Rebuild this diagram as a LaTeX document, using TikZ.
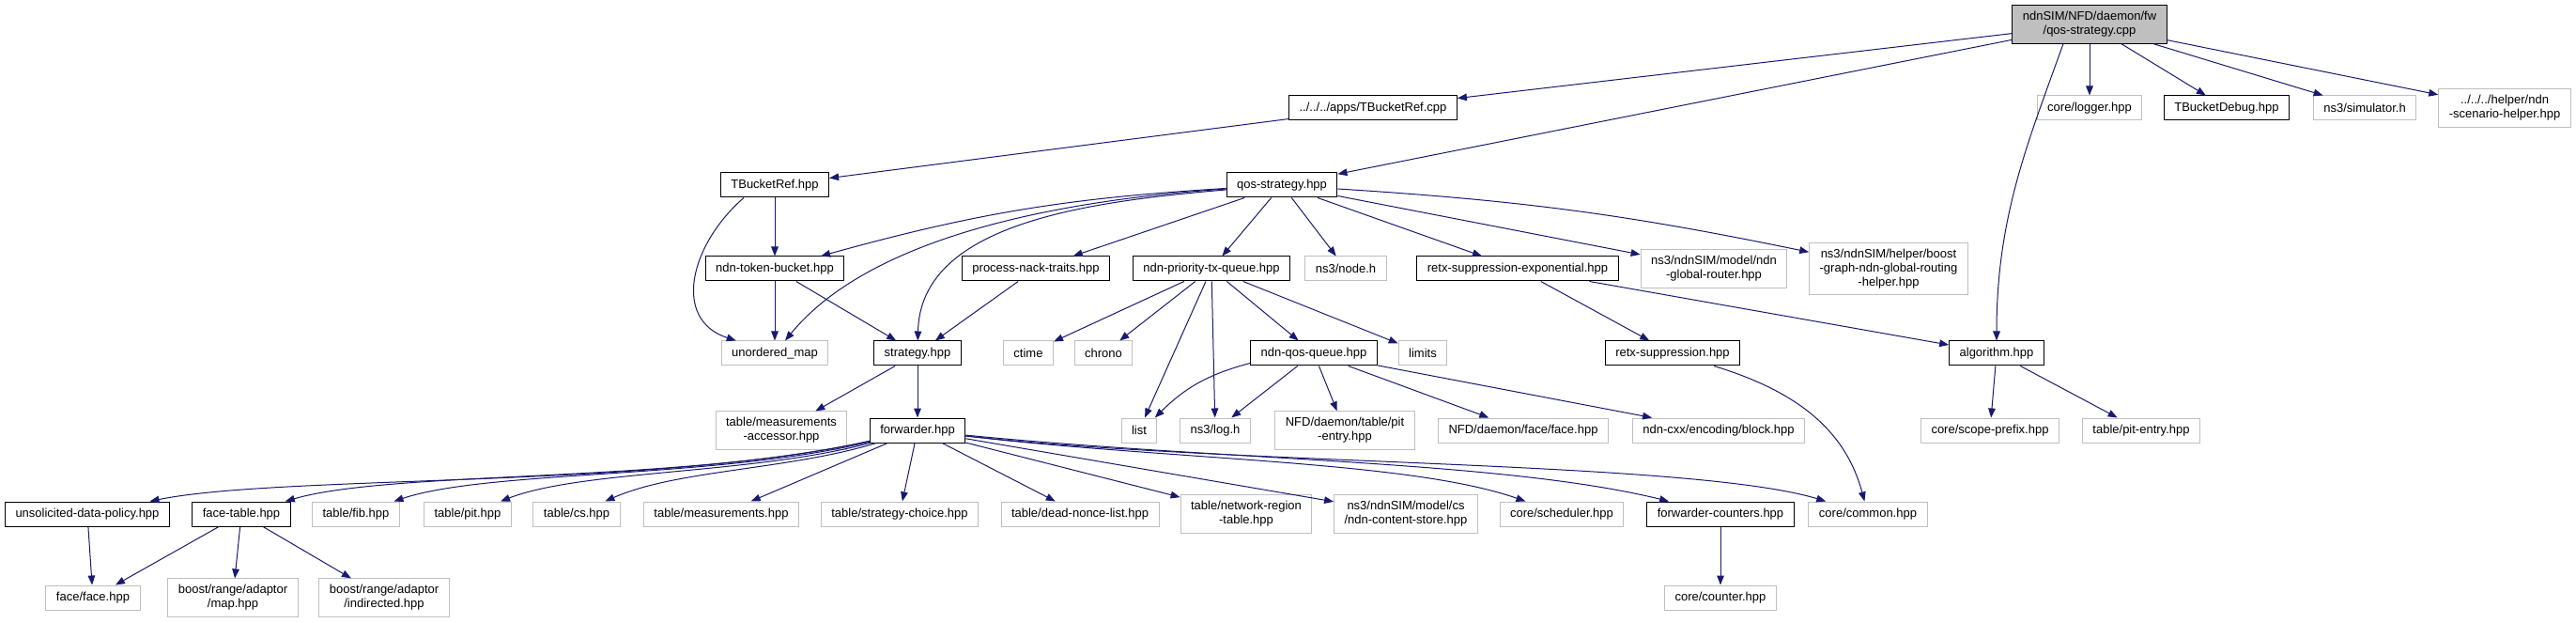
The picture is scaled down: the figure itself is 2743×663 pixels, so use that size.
\documentclass[tikz,border=0pt]{standalone}
\usepackage{fontspec}
\setmainfont{Liberation Sans}
\usepackage{xcolor}
\usepackage{tikz}
\usetikzlibrary{arrows.meta}
\definecolor{grey75}{HTML}{BFBFBF}
\definecolor{edgeblue}{HTML}{191970}

\begin{document}
\begin{tikzpicture}[x=0.5pt, y=-0.5pt,
    every node/.append style={font=\fontsize{6.5}{7.4}\selectfont},
    box/.style={draw=black, line width=0.5pt, fill=white, inner xsep=5.5pt, inner ysep=3.3pt, minimum height=13pt, align=center},
    extbox/.style={box, draw=grey75},
    rootbox/.style={box, fill=grey75},
    arr/.style={-{Triangle[length=5pt, width=3.8pt]}, draw=edgeblue, line width=0.5pt},
]
\useasboundingbox (0,0) rectangle (2743,663);

\node[rootbox] (root) at (2225, 26) {ndnSIM/NFD/daemon/fw\\/qos-strategy.cpp};

\node[box] (tbrCpp) at (1462, 115) {../../../apps/TBucketRef.cpp};
\node[extbox] (logger) at (2225, 115) {core/logger.hpp};
\node[box] (tbDebug) at (2371, 115) {TBucketDebug.hpp};
\node[extbox] (simulator) at (2518, 115) {ns3/simulator.h};
\node[extbox] (scenHelper) at (2667, 115) {../../../helper/ndn\\-scenario-helper.hpp};

\node[box] (tbrHpp) at (825, 197) {TBucketRef.hpp};
\node[box] (qosHpp) at (1365, 197) {qos-strategy.hpp};

\node[box] (tokenBucket) at (825, 286) {ndn-token-bucket.hpp};
\node[box] (nackTraits) at (1103, 286) {process-nack-traits.hpp};
\node[box] (priorityTx) at (1290, 286) {ndn-priority-tx-queue.hpp};
\node[extbox] (nodeH) at (1433, 286) {ns3/node.h};
\node[box] (retxExp) at (1616, 286) {retx-suppression-exponential.hpp};
\node[extbox] (globalRouter) at (1825, 286) {ns3/ndnSIM/model/ndn\\-global-router.hpp};
\node[extbox] (boostGraph) at (2011, 286) {ns3/ndnSIM/helper/boost\\-graph-ndn-global-routing\\-helper.hpp};

\node[extbox] (unorderedMap) at (825, 376) {unordered\_map};
\node[box] (strategy) at (977, 376) {strategy.hpp};
\node[extbox] (ctime) at (1095, 376) {ctime};
\node[extbox] (chrono) at (1175, 376) {chrono};
\node[box] (qosQueue) at (1399, 376) {ndn-qos-queue.hpp};
\node[extbox] (limits) at (1515, 376) {limits};
\node[box] (retxSupp) at (1781, 376) {retx-suppression.hpp};
\node[box] (algorithm) at (2126, 376) {algorithm.hpp};

\node[extbox] (measAccessor) at (832, 458) {table/measurements\\-accessor.hpp};
\node[box] (forwarder) at (977, 458) {forwarder.hpp};
\node[extbox] (list) at (1213, 458) {list};
\node[extbox] (nsLog) at (1294, 458) {ns3/log.h};
\node[extbox] (nfdPitEntry) at (1432, 458) {NFD/daemon/table/pit\\-entry.hpp};
\node[extbox] (nfdFace) at (1622, 458) {NFD/daemon/face/face.hpp};
\node[extbox] (block) at (1830, 458) {ndn-cxx/encoding/block.hpp};
\node[extbox] (scopePrefix) at (2119, 458) {core/scope-prefix.hpp};
\node[extbox] (pitEntry) at (2280, 458) {table/pit-entry.hpp};

\node[box] (unsolicited) at (93, 547) {unsolicited-data-policy.hpp};
\node[box] (faceTable) at (257, 547) {face-table.hpp};
\node[extbox] (fib) at (379, 547) {table/fib.hpp};
\node[extbox] (pit) at (498, 547) {table/pit.hpp};
\node[extbox] (cs) at (614, 547) {table/cs.hpp};
\node[extbox] (measurements) at (768, 547) {table/measurements.hpp};
\node[extbox] (strategyChoice) at (958, 547) {table/strategy-choice.hpp};
\node[extbox] (deadNonce) at (1150, 547) {table/dead-nonce-list.hpp};
\node[extbox] (networkRegion) at (1327, 547) {table/network-region\\-table.hpp};
\node[extbox] (contentStore) at (1497, 547) {ns3/ndnSIM/model/cs\\/ndn-content-store.hpp};
\node[extbox] (scheduler) at (1663, 547) {core/scheduler.hpp};
\node[box] (fwdCounters) at (1832, 547) {forwarder-counters.hpp};
\node[extbox] (common) at (1989, 547) {core/common.hpp};

\node[extbox] (faceFace) at (99, 636) {face/face.hpp};
\node[extbox] (boostMap) at (248, 636) {boost/range/adaptor\\/map.hpp};
\node[extbox] (boostIndirected) at (409, 636) {boost/range/adaptor\\/indirected.hpp};
\node[extbox] (counter) at (1832, 636) {core/counter.hpp};

\draw[arr] (root) -- (tbrCpp);
\draw[arr] (root) -- (qosHpp);
\draw[arr] ([xshift=-14pt]root.south) .. controls (2160,150) and (2126,230) .. (algorithm);
\draw[arr] (root) -- (logger);
\draw[arr] (root) -- (tbDebug);
\draw[arr] (root) -- (simulator);
\draw[arr] (root) -- (scenHelper);

\draw[arr] (tbrCpp) -- (tbrHpp);
\draw[arr] ([xshift=-16.5pt]tbrHpp.south) .. controls (735,260) and (715,340) .. (unorderedMap);
\draw[arr] (tbrHpp) -- (tokenBucket);

\draw[arr] (qosHpp) to[bend right=6] (tokenBucket);
\draw[arr] (qosHpp) .. controls (1100,215) and (920,260) .. (unorderedMap);
\draw[arr] (qosHpp) .. controls (1150,215) and (980,240) .. (strategy);
\draw[arr] (qosHpp) -- (nackTraits);
\draw[arr] (qosHpp) -- (priorityTx);
\draw[arr] (qosHpp) -- (nodeH);
\draw[arr] (qosHpp) -- (retxExp);
\draw[arr] (qosHpp) -- (globalRouter);
\draw[arr] (qosHpp) to[bend left=4] (boostGraph);

\draw[arr] (tokenBucket) -- (unorderedMap);
\draw[arr] (tokenBucket) -- (strategy);
\draw[arr] (nackTraits) -- (strategy);

\draw[arr] (priorityTx) -- (ctime);
\draw[arr] (priorityTx) -- (chrono);
\draw[arr] (priorityTx) -- (list);
\draw[arr] (priorityTx) -- (nsLog);
\draw[arr] (priorityTx) -- (qosQueue);
\draw[arr] (priorityTx) -- (limits);

\draw[arr] (qosQueue) to[bend right=15] (list);
\draw[arr] (qosQueue) -- (nsLog);
\draw[arr] (qosQueue) -- (nfdPitEntry);
\draw[arr] (qosQueue) -- (nfdFace);
\draw[arr] (qosQueue) -- (block);

\draw[arr] (retxExp) -- (retxSupp);
\draw[arr] (retxExp) -- (algorithm);
\draw[arr] (retxSupp) to[out=-17, in=105] (common);
\draw[arr] (algorithm) -- (scopePrefix);
\draw[arr] (algorithm) -- (pitEntry);

\draw[arr] (strategy) -- (measAccessor);
\draw[arr] (strategy) -- (forwarder);

\draw[arr] (forwarder) .. controls (700,520) and (300,505) .. (unsolicited);
\draw[arr] (forwarder) .. controls (720,515) and (420,500) .. (faceTable);
\draw[arr] (forwarder) .. controls (760,510) and (520,500) .. (fib);
\draw[arr] (forwarder) .. controls (800,505) and (620,500) .. (pit);
\draw[arr] (forwarder) .. controls (840,500) and (720,500) .. (cs);
\draw[arr] (forwarder) -- (measurements);
\draw[arr] (forwarder) -- (strategyChoice);
\draw[arr] (forwarder) -- (deadNonce);
\draw[arr] (forwarder) -- (networkRegion);
\draw[arr] (forwarder) -- (contentStore);
\draw[arr] (forwarder) .. controls (1250,490) and (1500,490) .. (scheduler);
\draw[arr] (forwarder) .. controls (1300,490) and (1600,490) .. (fwdCounters);
\draw[arr] (forwarder) .. controls (1300,495) and (1800,490) .. (common);

\draw[arr] (unsolicited) -- (faceFace);
\draw[arr] (faceTable) -- (faceFace);
\draw[arr] (faceTable) -- (boostMap);
\draw[arr] (faceTable) -- (boostIndirected);
\draw[arr] (fwdCounters) -- (counter);

\end{tikzpicture}
\end{document}
